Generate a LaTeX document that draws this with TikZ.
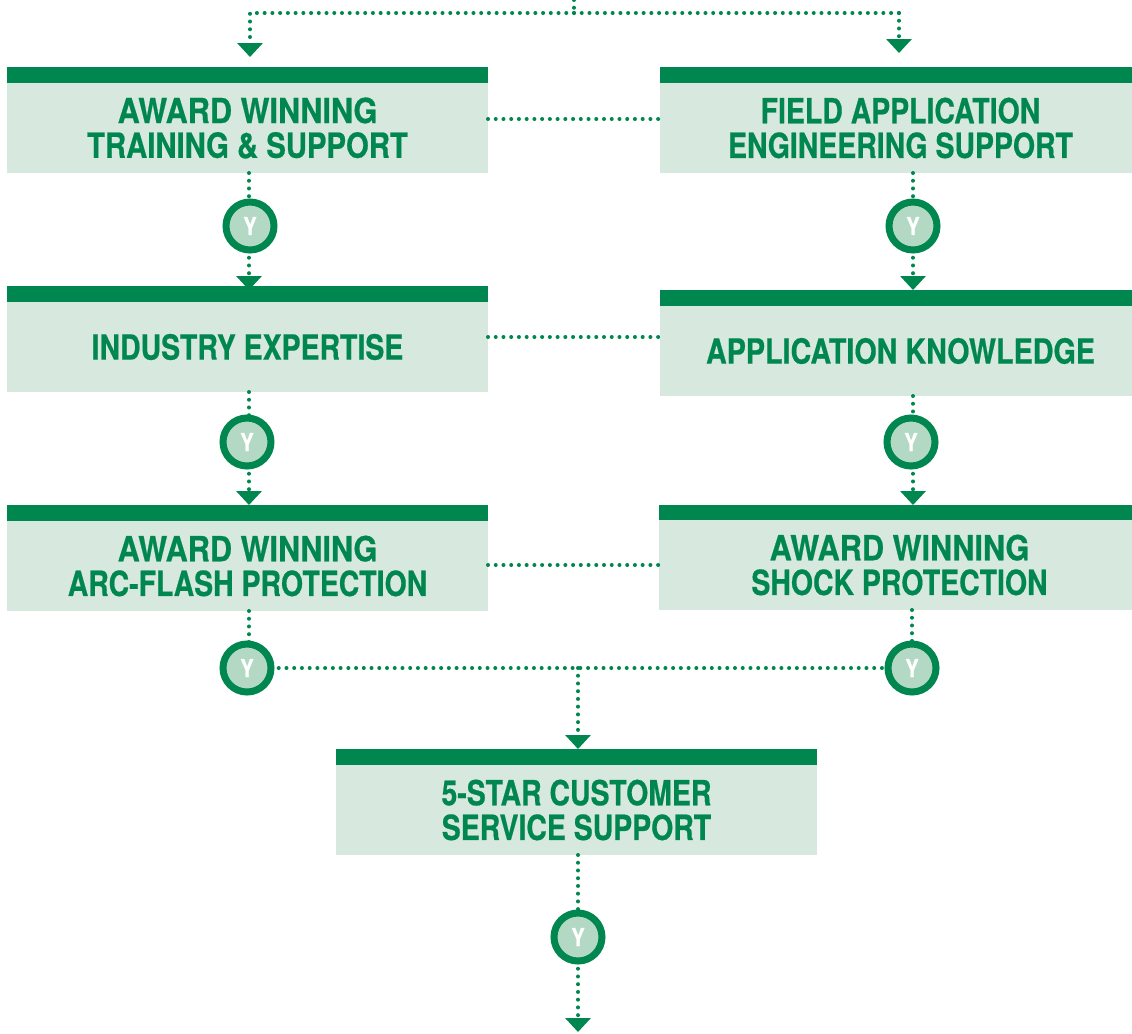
\documentclass[tikz,border=0pt]{standalone}
\usepackage{fontspec}
\setmainfont{TeX Gyre Heros}[FakeStretch=0.82,BoldFeatures={FakeBold=0.5}]
\usetikzlibrary{calc,positioning,arrows.meta}
\definecolor{leaf}{HTML}{00864F}
\definecolor{mist}{HTML}{D7E8DF}
\definecolor{sage}{HTML}{B3D9C5}
\newcommand{\wider}[2]{\scalebox{#1}[1]{#2}}
\tikzset{
	bar/.style={fill=leaf,minimum width=360.75pt,minimum height=12pt,inner sep=0pt,outer sep=0pt},
	panel/.style={fill=mist,text=leaf,minimum width=360.75pt,minimum height=67.5pt,inner sep=0pt,outer sep=0pt,align=center,font=\fontsize{26}{26}\selectfont\bfseries},
	yes/.style={circle,draw=leaf,fill=sage,line width=5.25pt,minimum size=36pt,inner sep=0pt,outer sep=0pt,text=white,font=\fontsize{18.5}{18.5}\selectfont\bfseries},
	dots/.style={leaf,line width=3pt,line cap=round,dash pattern=on 0pt off 5.8pt},
	flow/.style={dots,-{Triangle[width=18.75pt,length=10.5pt]}}
}
\begin{document}
\begin{tikzpicture}[x=0.75pt,y=-0.75pt]
	\useasboundingbox (0,0) rectangle (1132,1033);
	% left column
	\node(a1b) [bar] at (247.5,75) {};
	\node(a1) [panel,below=0pt of a1b] {\wider{1.08}{AWARD WINNING}\\\wider{1.03}{TRAINING \& SUPPORT}};
	\node(a2b) [bar] at (247.5,294) {};
	\node(a2) [panel,below=0pt of a2b] {INDUSTRY EXPERTISE};
	\node(a3b) [bar] at (247.5,513) {};
	\node(a3) [panel,below=0pt of a3b] {\wider{1.08}{AWARD WINNING}\\ARC-FLASH PROTECTION};
	% right column, runs off the page
	\node(b1b) [bar] at (900.5,75) {};
	\node(b1) [panel,below=0pt of b1b] {FIELD APPLICATION\\ENGINEERING SUPPORT};
	\node(b2b) [bar] at (900.5,298) {};
	\node(b2) [panel,below=0pt of b2b] {\wider{1.01}{APPLICATION KNOWLEDGE}};
	\node(b3b) [bar] at (899.5,513) {};
	\node(b3) [panel,below=0pt of b3b,yshift=0.75pt] {\wider{1.08}{AWARD WINNING}\\SHOCK PROTECTION};
	% bottom box
	\node(c1b) [bar] at (576.5,757) {};
	\node(c1) [panel,below=0pt of c1b] {5-STAR CUSTOMER\\SERVICE SUPPORT};
	% yes circles
	\node(ya1) [yes] at (250,226) {Y};
	\node(ya2) [yes] at (247,442) {Y};
	\node(ya3) [yes] at (247,668) {Y};
	\node(yb1) [yes] at (913,226) {Y};
	\node(yb2) [yes] at (911,442) {Y};
	\node(yb3) [yes] at (912,668) {Y};
	\node(yc) [yes] at (578,937) {Y};
	% free ends and columns
	\coordinate (top) at (574,0);
	\coordinate (join) at (574,13);
	\coordinate (lx) at (249,0);
	\coordinate (rx) at (913,0);
	\coordinate (mid) at (578,668);
	\coordinate (endin) at (578,1032);
	% entry
	\draw[dots] (top) -- (join);
	\draw[dots] (join) -- (899,13);
	\draw[flow] (join) -| (250,57);
	\draw[flow] (899,13) -- (899,53);
	% across
	\draw[dots] (a1.east |- 0,119) -- (b1.west |- 0,119);
	\draw[dots] (a2.east |- 0,337) -- (b2.west |- 0,337);
	\draw[dots] (a3.east |- 0,565) -- (b3.west |- 0,565);
	% down the left
	\draw[dots] (a1.south -| lx) -- (lx |- ya1.north);
	\draw[flow,shorten >=-3pt] (lx |- ya1.south) -- (lx |- a2b.north);
	\draw[dots] (a2.south -| lx) -- (lx |- ya2.north);
	\draw[flow] (lx |- ya2.south) -- (lx |- a3b.north);
	\draw[dots] (a3.south -| lx) -- (lx |- ya3.north);
	% down the right
	\draw[dots] (b1.south -| rx) -- (rx |- yb1.north);
	\draw[flow] (rx |- yb1.south) -- (rx |- b2b.north);
	\draw[dots] (b2.south -| rx) -- (rx |- yb2.north);
	\draw[flow] (rx |- yb2.south) -- (rx |- b3b.north);
	\draw[dots] (b3.south -| yb3.north) -- (yb3.north);
	% to the bottom
	\draw[dots] (ya3.east) -- (yb3.west);
	\draw[flow] (mid) -- (mid |- c1b.north);
	\draw[dots] (c1.south -| yc.north) -- (yc.north);
	\draw[flow] (yc.south) -- (endin);
\end{tikzpicture}
\end{document}
